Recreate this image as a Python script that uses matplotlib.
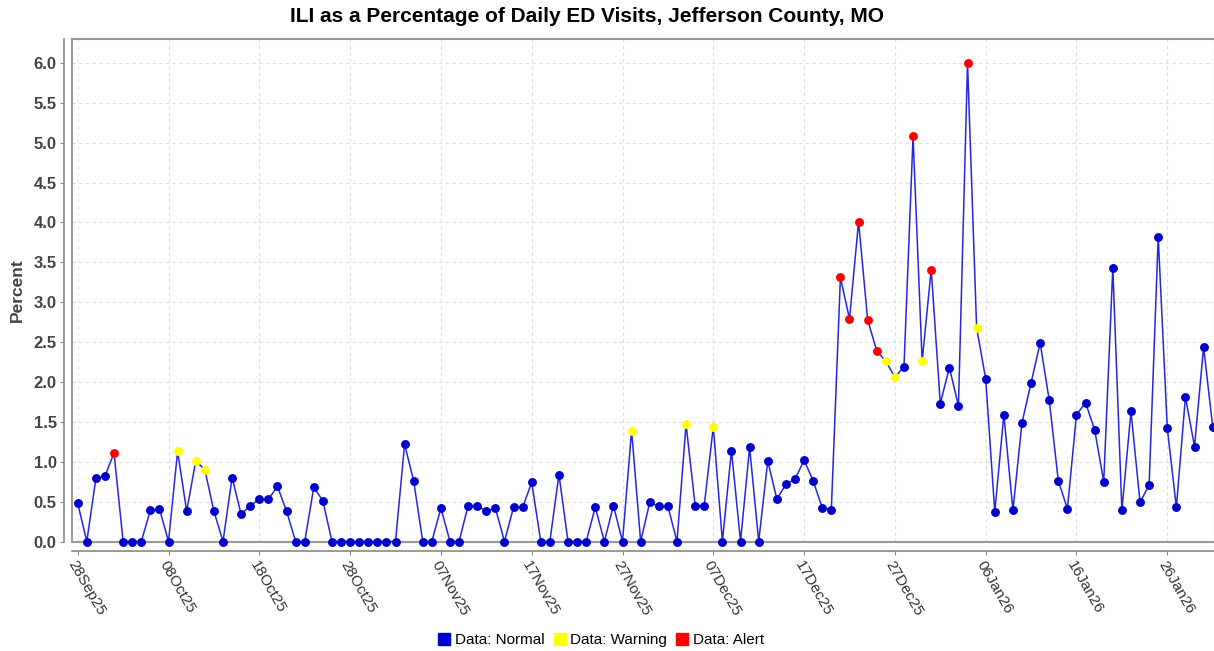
import matplotlib
matplotlib.use("Agg")
import matplotlib.pyplot as plt
import matplotlib.dates as mdates
from matplotlib.patches import Rectangle
from matplotlib.lines import Line2D
import numpy as np
import pandas as pd

plt.rcParams['font.family'] = ['Liberation Sans', 'DejaVu Sans']

start_date = "2025-09-28"
values = [
    0.48, 0.00, 0.79, 0.82, 1.11, 0.00, 0.00, 0.00, 0.39, 0.41,
    0.00, 1.13, 0.38, 1.01, 0.90, 0.38, 0.00, 0.80, 0.34, 0.45,
    0.53, 0.53, 0.69, 0.38, 0.00, 0.00, 0.68, 0.51, 0.00, 0.00,
    0.00, 0.00, 0.00, 0.00, 0.00, 0.00, 1.22, 0.76, 0.00, 0.00,
    0.42, 0.00, 0.00, 0.45, 0.45, 0.38, 0.42, 0.00, 0.43, 0.43,
    0.74, 0.00, 0.00, 0.84, 0.00, 0.00, 0.00, 0.43, 0.00, 0.45,
    0.00, 1.39, 0.00, 0.49, 0.44, 0.44, 0.00, 1.47, 0.45, 0.45,
    1.44, 0.00, 1.14, 0.00, 1.18, 0.00, 1.01, 0.53, 0.72, 0.78,
    1.02, 0.76, 0.42, 0.40, 3.31, 2.79, 4.01, 2.78, 2.39, 2.26,
    2.06, 2.19, 5.08, 2.26, 3.41, 1.73, 2.18, 1.70, 6.00, 2.68,
    2.04, 0.37, 1.59, 0.39, 1.49, 1.99, 2.49, 1.77, 0.76, 0.41,
    1.59, 1.74, 1.40, 0.75, 3.43, 0.39, 1.63, 0.49, 0.71, 3.82,
    1.42, 0.43, 1.81, 1.19, 2.44, 1.44,
]
warning_days = [11, 13, 14, 61, 67, 70, 89, 90, 93, 99]
alert_days = [4, 84, 85, 86, 87, 88, 92, 94, 98]
legend_labels = ["Data: Normal", "Data: Warning", "Data: Alert"]
title = "ILI as a Percentage of Daily ED Visits, Jefferson County, MO"

dates = pd.date_range(start_date, periods=len(values), freq="D")
vals = np.array(values)
status = np.zeros(len(vals), dtype=int)
status[warning_days] = 1
status[alert_days] = 2
colors = np.array(["#0000CC", "#FFFF00", "#FF0000"])

W, H = 1214, 651
fig = plt.figure(figsize=(W / 100, H / 100), dpi=100)
ax = fig.add_axes([72 / W, 1 - 541.5 / H, (1214.5 - 72) / W, (541.5 - 39) / H])

x = mdates.date2num(dates)
ax.plot(x, vals, color="#2626E0", lw=1.1, zorder=3, clip_on=False)
for s in range(3):
    m = status == s
    ax.plot(x[m], vals[m], ls="none", marker="o", ms=6.4, mfc=colors[s],
            mec=colors[s], mew=0, zorder=4, clip_on=False)

ax.set_ylim(0, 6.3)
ax.set_xlim(x[0] - 0.63, x[0] + 125.2)
ax.set_yticks(np.arange(0, 6.01, 0.5))
ax.set_yticklabels([f"{v:.1f}" for v in np.arange(0, 6.01, 0.5)])
xt = x[0] + np.arange(0, 126, 10)
ax.set_xticks(xt)
ax.set_xticklabels([mdates.num2date(t).strftime("%d%b%y") for t in xt])

ax.grid(True, color="#DEDEDE", ls=(0, (3, 3)), lw=0.8)
ax.set_axisbelow(True)

for sp in ["top", "right"]:
    ax.spines[sp].set_visible(False)
ax.spines["left"].set_position(("outward", 6))
ax.spines["bottom"].set_position(("outward", 7))
for sp in ["left", "bottom"]:
    ax.spines[sp].set_color("#888888")
    ax.spines[sp].set_linewidth(1.2)
ax.add_patch(Rectangle((0, 0), 1.0, 1, transform=ax.transAxes, fill=False,
                       ec="#999999", lw=1.5, zorder=2, clip_on=False))

ax.tick_params(axis="y", length=3, color="#888888", labelsize=12, labelcolor="#444444", pad=2)
ax.tick_params(axis="x", length=3, color="#888888", labelsize=11, labelcolor="#333333", pad=2)
for lab in ax.get_yticklabels():
    lab.set_fontweight("bold")
for lab in ax.get_xticklabels():
    lab.set_rotation(-60)
    lab.set_ha("left")
    lab.set_va("top")
    lab.set_rotation_mode("anchor")

ax.set_ylabel("Percent", fontsize=12.5, fontweight="bold", color="#444444", labelpad=6)

fig.text(587 / W, 1 - 17 / H, title, ha="center", va="center", fontsize=15,
         fontweight="bold", color="#000000")

handles = [Line2D([], [], ls="none", marker="s", ms=8, mfc=c, mec=c) for c in colors]
fig.legend(handles, legend_labels, loc="center", bbox_to_anchor=(601 / W, 1 - 640 / H),
           ncol=3, frameon=False, fontsize=11, handlelength=0.8, handletextpad=0.3,
           columnspacing=0.6, borderaxespad=0)

fig.savefig("out.png", dpi=100)
